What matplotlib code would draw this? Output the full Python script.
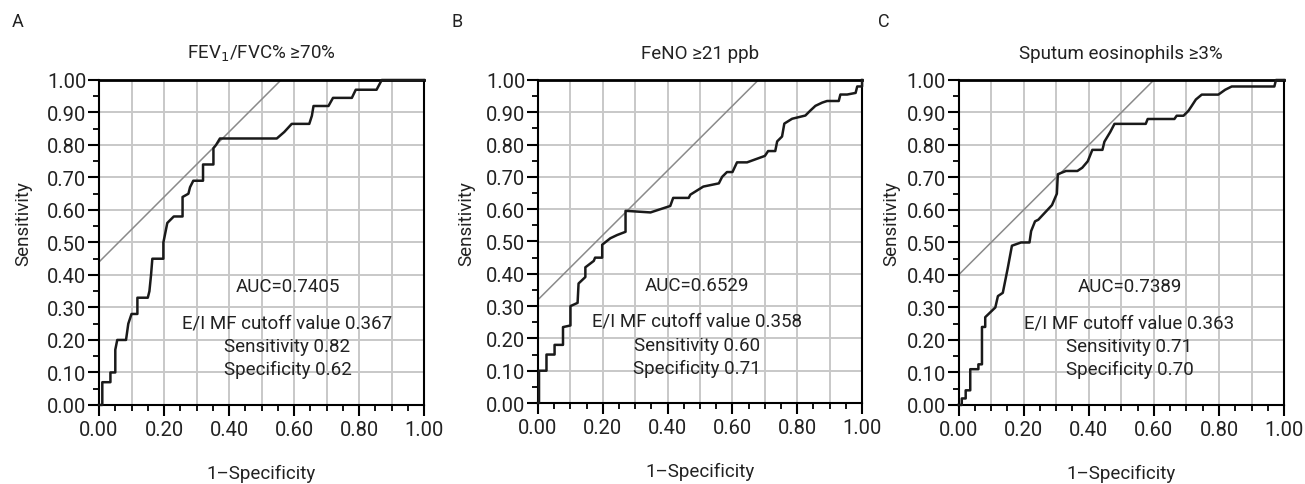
import numpy as np
import matplotlib.pyplot as plt
from matplotlib.ticker import MultipleLocator

plt.rcParams['font.family'] = ['Roboto', 'DejaVu Sans']

# ROC curve A: FEV1/FVC% >=70%
fpr_a = [0, 0.01, 0.01, 0.035, 0.035, 0.05, 0.05, 0.056, 0.083, 0.09, 0.10, 0.118, 0.118,
         0.15, 0.155, 0.16, 0.164, 0.198, 0.198, 0.20, 0.21, 0.23, 0.257, 0.257, 0.275, 0.28,
         0.29, 0.32, 0.32, 0.352, 0.352, 0.36, 0.372, 0.547, 0.57, 0.593, 0.647, 0.655, 0.66,
         0.706, 0.72, 0.778, 0.79, 0.854, 0.87, 1.0]
tpr_a = [0, 0, 0.07, 0.07, 0.10, 0.10, 0.17, 0.20, 0.20, 0.25, 0.28, 0.28, 0.33,
         0.33, 0.35, 0.40, 0.45, 0.45, 0.50, 0.51, 0.56, 0.58, 0.58, 0.64, 0.65, 0.67,
         0.69, 0.69, 0.74, 0.74, 0.79, 0.80, 0.82, 0.82, 0.84, 0.865, 0.865, 0.89, 0.92,
         0.92, 0.945, 0.945, 0.97, 0.97, 1.0, 1.0]

# ROC curve B: FeNO >=21 ppb
fpr_b = [0, 0.003, 0.003, 0.026, 0.026, 0.051, 0.051, 0.077, 0.077, 0.10, 0.10, 0.122, 0.125,
         0.146, 0.146, 0.172, 0.176, 0.198, 0.198, 0.223, 0.244, 0.27, 0.27, 0.347, 0.408,
         0.417, 0.465, 0.47, 0.51, 0.558, 0.568, 0.583, 0.60, 0.614, 0.645, 0.70, 0.71, 0.732,
         0.738, 0.753, 0.76, 0.784, 0.825, 0.84, 0.856, 0.877, 0.892, 0.928, 0.933, 0.954,
         0.98, 0.985, 1.0, 1.0]
tpr_b = [0, 0, 0.10, 0.10, 0.15, 0.15, 0.18, 0.18, 0.235, 0.24, 0.30, 0.31, 0.37,
         0.39, 0.42, 0.44, 0.45, 0.45, 0.49, 0.51, 0.52, 0.53, 0.595, 0.59, 0.61,
         0.635, 0.635, 0.645, 0.67, 0.68, 0.70, 0.715, 0.715, 0.745, 0.745, 0.765, 0.78, 0.78,
         0.81, 0.825, 0.865, 0.88, 0.89, 0.905, 0.92, 0.93, 0.935, 0.935, 0.955, 0.955,
         0.96, 0.98, 0.98, 1.0]

# ROC curve C: Sputum eosinophils >=3%
fpr_c = [0, 0.01, 0.01, 0.022, 0.022, 0.036, 0.036, 0.061, 0.061, 0.072, 0.072, 0.082, 0.082,
         0.113, 0.121, 0.136, 0.143, 0.151, 0.164, 0.192, 0.218, 0.223, 0.235, 0.245, 0.287,
         0.302, 0.305, 0.33, 0.365, 0.38, 0.397, 0.411, 0.442, 0.448, 0.466, 0.479, 0.575,
         0.581, 0.663, 0.67, 0.691, 0.706, 0.716, 0.729, 0.747, 0.798, 0.819, 0.839, 0.97,
         0.975, 1.0]
tpr_c = [0, 0, 0.02, 0.02, 0.045, 0.045, 0.11, 0.11, 0.125, 0.125, 0.24, 0.24, 0.27,
         0.30, 0.335, 0.345, 0.38, 0.42, 0.49, 0.50, 0.50, 0.535, 0.565, 0.57, 0.615,
         0.65, 0.71, 0.72, 0.72, 0.73, 0.75, 0.785, 0.785, 0.81, 0.84, 0.865, 0.865,
         0.88, 0.88, 0.89, 0.89, 0.905, 0.92, 0.94, 0.955, 0.955, 0.97, 0.98, 0.98,
         1.0, 1.0]

letters = ['A', 'B', 'C']
titles = ['FEV$_1$/FVC% \u226570%', 'FeNO \u226521 ppb', 'Sputum eosinophils \u22653%']
intercepts = [0.44, 0.32, 0.40]
auc = ['0.7405', '0.6529', '0.7389']
cutoff = ['0.367', '0.358', '0.363']
sens = ['0.82', '0.60', '0.71']
spec = ['0.62', '0.71', '0.70']
text_x = [0.58, 0.49, 0.525]

curves = [(fpr_a, tpr_a), (fpr_b, tpr_b), (fpr_c, tpr_c)]
positions = [[0.0759, 0.163, 0.249, 0.670],
             [0.4123, 0.167, 0.2483, 0.666],
             [0.7345, 0.163, 0.2495, 0.670]]
letter_x = [0.009, 0.346, 0.673]
ylabel_x = [-0.206, -0.194, -0.18]

fig = plt.figure(figsize=(13.05, 4.85), dpi=100)

for i in range(3):
    ax = fig.add_axes(positions[i])
    ax.set_xlim(0, 1)
    ax.set_ylim(0, 1)
    ax.xaxis.set_major_locator(MultipleLocator(0.2))
    ax.xaxis.set_minor_locator(MultipleLocator(0.05))
    ax.yaxis.set_major_locator(MultipleLocator(0.1))
    ax.yaxis.set_minor_locator(MultipleLocator(0.05))
    # grid every 0.1 on both axes
    for g in np.arange(0.1, 1.0, 0.1):
        ax.axvline(g, color='#c8c8c8', lw=1.4, zorder=0)
        ax.axhline(g, color='#c8c8c8', lw=1.4, zorder=0)
    ax.xaxis.set_major_formatter(lambda v, p: '%.2f' % v)
    ax.yaxis.set_major_formatter(lambda v, p: '%.2f' % v)
    ax.tick_params(which='major', direction='out', length=8, width=1.5, labelsize=14.5,
                   pad=1, color='black', labelcolor='#222222')
    ax.tick_params(which='minor', direction='out', length=4, width=1.3)
    ax.tick_params(axis='x', pad=3)
    for s in ax.spines.values():
        s.set_linewidth(1.5)
    ax.spines['top'].set_linewidth(2.0)

    xs = np.array([0, 1.0])
    ax.plot(xs, intercepts[i] + xs, color='#8a8a8a', lw=1.1, zorder=2)
    fp, tp = curves[i]
    ax.plot(fp, tp, color='#1a1a1a', lw=1.8, zorder=3, clip_on=False)

    fs = 13.5
    ax.text(text_x[i], 0.365, 'AUC=' + auc[i], ha='center', va='center', fontsize=fs,
            color='#222222')
    ax.text(text_x[i], 0.255, 'E/I MF cutoff value ' + cutoff[i], ha='center', va='center',
            fontsize=fs, color='#222222')
    ax.text(text_x[i], 0.180, 'Sensitivity ' + sens[i], ha='center', va='center', fontsize=fs,
            color='#222222')
    ax.text(text_x[i], 0.110, 'Specificity ' + spec[i], ha='center', va='center', fontsize=fs,
            color='#222222')

    ax.set_title(titles[i], fontsize=13.5, pad=16, color='#222222')
    ax.set_xlabel('1\u2013Specificity', fontsize=13.5, labelpad=18, color='#222222')
    ax.set_ylabel('Sensitivity', fontsize=13.5, color='#222222')
    ax.yaxis.set_label_coords(ylabel_x[i], 0.56)
    fig.text(letter_x[i], 0.955, letters[i], fontsize=13, ha='left', va='center',
             color='#222222')

fig.savefig('out.png', dpi=100)
